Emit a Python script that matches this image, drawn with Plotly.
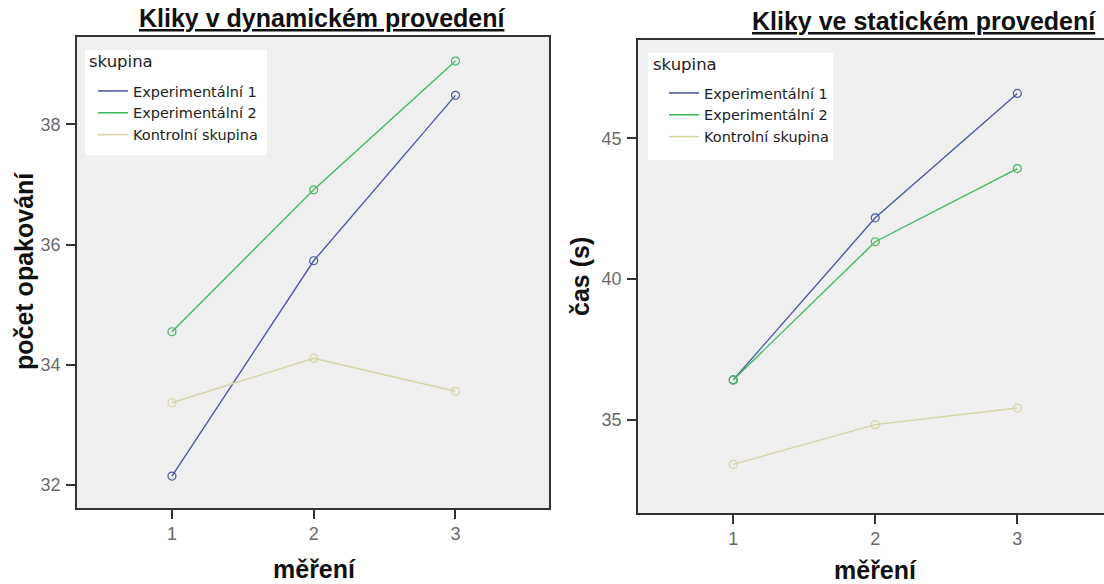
import plotly.graph_objects as go

# measurement occasions
mereni = [1, 2, 3]
skupiny = ["Experimentální 1", "Experimentální 2", "Kontrolní skupina"]

# dynamic push-ups: mean repetitions per group
dyn_exp1 = [32.15, 35.73, 38.48]
dyn_exp2 = [34.55, 36.91, 39.05]
dyn_kontrol = [33.37, 34.11, 33.56]

# static push-ups: mean time (s) per group
stat_exp1 = [36.42, 42.18, 46.60]
stat_exp2 = [36.42, 41.33, 43.93]
stat_kontrol = [33.42, 34.83, 35.42]

dyn_yticks = [32, 34, 36, 38]
stat_yticks = [35, 40, 45]

colors = ["#4d5ba3", "#45b862", "#d8d4a6"]

W, H = 1104, 584


def px_x(p):
    return p / W


def px_y(p):
    return 1 - p / H


fig = go.Figure()

panels = [
    ("x", "y", "legend", [dyn_exp1, dyn_exp2, dyn_kontrol]),
    ("x2", "y2", "legend2", [stat_exp1, stat_exp2, stat_kontrol]),
]

for xa, ya, leg, series in panels:
    for name, vals, col in zip(skupiny, series, colors):
        fig.add_trace(go.Scatter(
            x=mereni, y=vals, mode="lines+markers", name=name,
            xaxis=xa, yaxis=ya, showlegend=False,
            line=dict(color=col, width=1.4),
            marker=dict(symbol="circle-open", size=8, color=col,
                        line=dict(width=1.2, color=col)),
        ))
    # legend entries show the line only
    for name, col in zip(skupiny, colors):
        fig.add_trace(go.Scatter(
            x=[None], y=[None], mode="lines", name=name,
            xaxis=xa, yaxis=ya, legend=leg, showlegend=True,
            line=dict(color=col, width=1.6),
        ))

tick_font = dict(family="Liberation Sans, Arial, sans-serif", size=18, color="#6a6a6a")
axis_common = dict(
    showgrid=False, zeroline=False, ticks="outside", ticklen=9,
    tickwidth=1.5, tickcolor="#333333", tickfont=tick_font,
    showline=True, linecolor="#333333", linewidth=1.5,
)

fig.update_layout(
    width=W, height=H,
    margin=dict(l=0, r=0, t=0, b=0),
    paper_bgcolor="white",
    plot_bgcolor="#efefef",
    xaxis=dict(domain=[px_x(77), px_x(549)], range=[0.33, 3.66],
               tickvals=mereni, mirror=True, ticklabelstandoff=0, **axis_common),
    yaxis=dict(domain=[px_y(508), px_y(37)], range=[31.62, 39.45],
               tickvals=dyn_yticks, mirror=True, ticklabelstandoff=2, **axis_common),
    xaxis2=dict(domain=[px_x(638), 1.0], range=[0.33, 3.61], anchor="y2",
                tickvals=mereni, mirror=True, ticklabelstandoff=0, **axis_common),
    yaxis2=dict(domain=[px_y(513), px_y(40)], range=[31.69, 48.5], anchor="x2",
                tickvals=stat_yticks, mirror=False, ticklabelstandoff=2, **axis_common),
)

# legend boxes: white panels inside each plot area
legend_box = [
    ("x domain", "y domain", 0.017, 0.4025, 0.7495, 0.9724),
    ("x2 domain", "y2 domain", 0.0215, 0.4185, 0.7463, 0.9725),
]
for xr, yr, x0, x1, y0, y1 in legend_box:
    fig.add_shape(type="rect", xref=xr, yref=yr, x0=x0, x1=x1, y0=y0, y1=y1,
                  fillcolor="white", line=dict(width=0), layer="below")

legend_common = dict(
    bgcolor="rgba(0,0,0,0)", borderwidth=0,
    font=dict(family="DejaVu Sans, sans-serif", size=14.5, color="#222222"),
    xanchor="left", yanchor="top", itemwidth=30, tracegroupgap=0,
)
fig.update_layout(
    legend=dict(x=px_x(93), y=px_y(75), **legend_common),
    legend2=dict(x=px_x(664), y=px_y(77), **legend_common),
)

# panel titles, legend headers and axis titles
bold = dict(family="Liberation Sans, Arial, sans-serif", size=25, color="#111111")
title_font = dict(bold, lineposition="under")
leg_title_font = dict(family="DejaVu Sans, sans-serif", size=16.5, color="#222222")
ann = [
    dict(text="<b>Kliky v dynamickém provedení</b>", x=px_x(322), y=px_y(18), font=title_font),
    dict(text="<b>Kliky ve statickém provedení</b>", x=px_x(924), y=px_y(21), font=title_font),
    dict(text="skupina", x=px_x(87), y=px_y(62), xanchor="left", font=leg_title_font),
    dict(text="skupina", x=px_x(651), y=px_y(64), xanchor="left", font=leg_title_font),
    dict(text="<b>počet opakování</b>", x=px_x(24), y=px_y(271), textangle=-90, font=bold),
    dict(text="<b>čas (s)</b>", x=px_x(580), y=px_y(277), textangle=-90, font=bold),
    dict(text="<b>měření</b>", x=px_x(314), y=px_y(569), font=bold),
    dict(text="<b>měření</b>", x=px_x(875), y=px_y(570), font=bold),
]
for a in ann:
    a.setdefault("xanchor", "center")
    fig.add_annotation(xref="paper", yref="paper", showarrow=False,
                       yanchor="middle", **a)

fig.write_html("out.html")
